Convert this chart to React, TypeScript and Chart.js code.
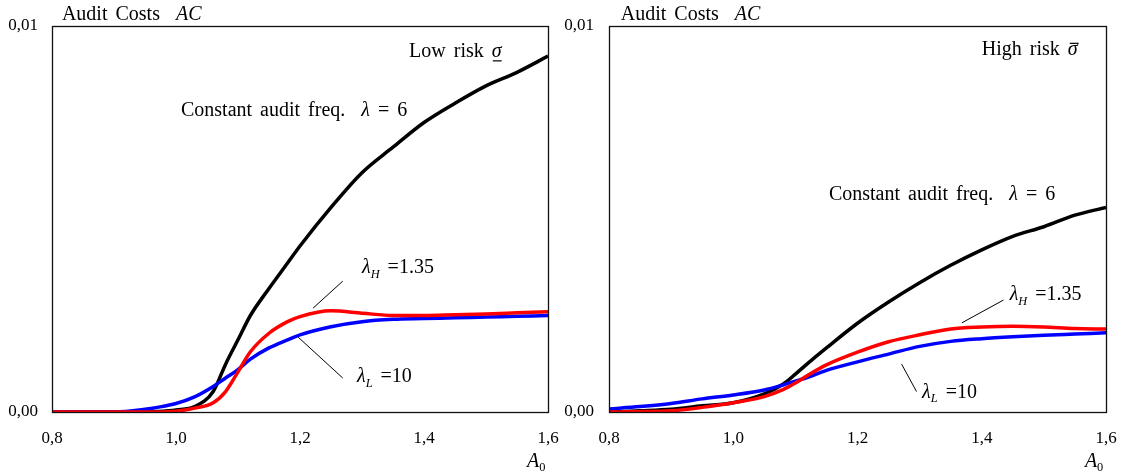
import React, { useEffect, useRef } from 'react';
import { Chart, registerables } from 'chart.js';

Chart.register(...registerables);

// ---------- data ----------
const leftA = [0.8, 0.85, 0.9, 0.95, 0.97, 1.0, 1.03, 1.06, 1.08, 1.1, 1.12, 1.15, 1.18, 1.2, 1.25, 1.3, 1.35, 1.4, 1.45, 1.5, 1.55, 1.6];
const leftConst = [0, 0, 0, 0, 0.00001, 0.00005, 0.00014, 0.00053, 0.00124, 0.00187, 0.0025, 0.0032, 0.00386, 0.0043, 0.0053, 0.0062, 0.00686, 0.0075, 0.008, 0.00845, 0.0088, 0.00922];
const leftLow = [0, 0, 0, 0.00007, 0.00012, 0.00022, 0.00039, 0.00066, 0.00088, 0.0011, 0.00137, 0.00166, 0.00187, 0.002, 0.00221, 0.00234, 0.0024, 0.00242, 0.00244, 0.00246, 0.00248, 0.0025];
const leftHigh = [0, 0, 0, 0, 0, 0.00002, 0.0001, 0.00024, 0.00053, 0.00104, 0.00156, 0.00204, 0.00234, 0.00247, 0.00262, 0.00256, 0.0025, 0.0025, 0.00252, 0.00254, 0.00257, 0.0026];

const rightA = [0.8, 0.85, 0.9, 0.95, 1.0, 1.05, 1.08, 1.1, 1.12, 1.15, 1.2, 1.25, 1.3, 1.35, 1.4, 1.45, 1.5, 1.55, 1.6];
const rightConst = [0, 0.00003, 0.00007, 0.00016, 0.00024, 0.00047, 0.00072, 0.00098, 0.00126, 0.00166, 0.0023, 0.00285, 0.00335, 0.0038, 0.0042, 0.00455, 0.0048, 0.0051, 0.0053];
const rightLow = [0.00008, 0.00014, 0.00022, 0.00034, 0.00044, 0.00057, 0.0007, 0.0008, 0.0009, 0.00108, 0.0013, 0.0015, 0.0017, 0.00183, 0.0019, 0.00195, 0.00199, 0.00202, 0.00205];
const rightHigh = [0, 0.00001, 0.00003, 0.00012, 0.00024, 0.0004, 0.00058, 0.00075, 0.00095, 0.00122, 0.00155, 0.00182, 0.002, 0.00215, 0.0022, 0.00222, 0.0022, 0.00216, 0.00215];

const xTicks = [0.8, 1.0, 1.2, 1.4, 1.6];
const yTicks = [0, 0.01];

// ---------- text / annotations ----------
type Seg = { t: string; i?: boolean; sub?: boolean; under?: boolean; over?: boolean };
type Note = { x: number; y: number; segs: Seg[] };
type Leader = { x1: number; y1: number; x2: number; y2: number };

const titleSegs: Seg[] = [{ t: 'Audit Costs  ' }, { t: 'AC', i: true }];
const constSegs: Seg[] = [{ t: 'Constant audit freq.  ' }, { t: 'λ', i: true }, { t: ' = 6' }];
const highSegs: Seg[] = [{ t: 'λ', i: true }, { t: 'H', i: true, sub: true }, { t: ' =1.35' }];
const lowSegs: Seg[] = [{ t: 'λ', i: true }, { t: 'L', i: true, sub: true }, { t: ' =10' }];
const axisSegs: Seg[] = [{ t: 'A', i: true }, { t: '0', sub: true }];

const leftNotes: Note[] = [
  { x: 0.816, y: 0.0103, segs: titleSegs },
  { x: 1.376, y: 0.00933, segs: [{ t: 'Low risk ' }, { t: 'σ', i: true, under: true }] },
  { x: 1.008, y: 0.0078, segs: constSegs },
  { x: 1.3, y: 0.00373, segs: highSegs },
  { x: 1.292, y: 0.00091, segs: lowSegs },
  { x: 1.566, y: -0.00128, segs: axisSegs },
];
const leftLeaders: Leader[] = [
  { x1: 1.269, y1: 0.00339, x2: 1.221, y2: 0.00269 },
  { x1: 1.197, y1: 0.00194, x2: 1.269, y2: 0.00088 },
];

const rightNotes: Note[] = [
  { x: 0.819, y: 0.0103, segs: titleSegs },
  { x: 1.4, y: 0.00938, segs: [{ t: 'High risk ' }, { t: 'σ', i: true, over: true }] },
  { x: 1.154, y: 0.00562, segs: constSegs },
  { x: 1.445, y: 0.00303, segs: highSegs },
  { x: 1.304, y: 0.0005, segs: lowSegs },
  { x: 1.566, y: -0.00128, segs: axisSegs },
];
const rightLeaders: Leader[] = [
  { x1: 1.435, y1: 0.0029, x2: 1.368, y2: 0.00231 },
  { x1: 1.271, y1: 0.00124, x2: 1.295, y2: 0.00053 },
];

const FONT = '"Liberation Serif", "Times New Roman", serif';
const NOTE_SIZE = 20;
const TICK_SIZE = 17;
const WORD_GAP = 3;

function drawRich(ctx: CanvasRenderingContext2D, segs: Seg[], x: number, y: number, size: number) {
  let cx = x;
  ctx.textBaseline = 'middle';
  ctx.textAlign = 'left';
  for (const s of segs) {
    const fs = s.sub ? size * 0.62 : size;
    ctx.font = `${s.i ? 'italic ' : ''}${fs}px ${FONT}`;
    const dy = s.sub ? size * 0.32 : 0;
    const parts = s.t.split(' ');
    const spaceW = ctx.measureText(' ').width + WORD_GAP;
    parts.forEach((p, k) => {
      if (k > 0) cx += spaceW;
      if (!p) return;
      ctx.fillText(p, cx, y + dy);
      const w = ctx.measureText(p).width;
      if (s.under) ctx.fillRect(cx + 1, y + size * 0.42, w - 1, 1.2);
      if (s.over) ctx.fillRect(cx + 2, y - size * 0.36, w - 1, 1.2);
      cx += w;
    });
  }
}

function makePlugin(notes: Note[], leaders: Leader[]) {
  return {
    id: 'notes',
    afterDraw(chart: any) {
      const { ctx, chartArea: a, scales } = chart;
      const xs = scales.x;
      const ys = scales.y;
      ctx.save();
      ctx.strokeStyle = '#111';
      ctx.lineWidth = 1.3;
      ctx.strokeRect(a.left + 0.5, a.top + 0.5, a.right - a.left, a.bottom - a.top);
      ctx.lineWidth = 1;
      ctx.strokeStyle = '#000';
      for (const l of leaders) {
        ctx.beginPath();
        ctx.moveTo(xs.getPixelForValue(l.x1), ys.getPixelForValue(l.y1));
        ctx.lineTo(xs.getPixelForValue(l.x2), ys.getPixelForValue(l.y2));
        ctx.stroke();
      }
      ctx.fillStyle = '#000';
      for (const n of notes) {
        drawRich(ctx, n.segs, xs.getPixelForValue(n.x), ys.getPixelForValue(n.y), NOTE_SIZE);
      }
      ctx.restore();
    },
  };
}

function buildConfig(
  xs: number[],
  series: { vals: number[]; color: string }[],
  yWidth: number,
  yPad: number,
  rightPad: number,
  notes: Note[],
  leaders: Leader[],
): any {
  return {
    type: 'line',
    data: {
      datasets: series.map((s) => ({
        data: xs.map((x, i) => ({ x, y: s.vals[i] })),
        borderColor: s.color,
        borderWidth: 3.5,
        pointRadius: 0,
        cubicInterpolationMode: 'monotone',
        fill: false,
      })),
    },
    options: {
      animation: false,
      responsive: false,
      devicePixelRatio: 1,
      layout: { padding: { top: 26, right: rightPad, left: 0, bottom: 0 } },
      plugins: { legend: { display: false }, tooltip: { enabled: false }, title: { display: false } },
      scales: {
        x: {
          type: 'linear',
          min: 0.8,
          max: 1.6,
          grid: { display: false, drawTicks: false },
          border: { display: false },
          afterBuildTicks: (s: any) => {
            s.ticks = xTicks.map((v) => ({ value: v }));
          },
          afterFit: (s: any) => {
            s.height = 61;
            s.paddingLeft = 0;
            s.paddingRight = 0;
          },
          ticks: {
            autoSkip: false,
            maxRotation: 0,
            padding: 16,
            color: '#000',
            font: { family: FONT, size: TICK_SIZE },
            callback: (v: any) => Number(v).toFixed(1).replace('.', ','),
          },
        },
        y: {
          type: 'linear',
          min: 0,
          max: 0.01,
          grid: { display: false, drawTicks: false },
          border: { display: false },
          afterBuildTicks: (s: any) => {
            s.ticks = yTicks.map((v) => ({ value: v }));
          },
          afterFit: (s: any) => {
            s.width = yWidth;
            s.paddingTop = 0;
            s.paddingBottom = 0;
          },
          ticks: {
            autoSkip: false,
            padding: yPad,
            color: '#000',
            font: { family: FONT, size: TICK_SIZE },
            callback: (v: any) => Number(v).toFixed(2).replace('.', ','),
          },
        },
      },
    },
    plugins: [makePlugin(notes, leaders)],
  };
}

const W = 561;
const H = 473;

export default function App() {
  const leftRef = useRef<HTMLCanvasElement>(null);
  const rightRef = useRef<HTMLCanvasElement>(null);

  useEffect(() => {
    const c1 = new Chart(
      leftRef.current!,
      buildConfig(
        leftA,
        [
          { vals: leftHigh, color: '#ff0000' },
          { vals: leftLow, color: '#0000ff' },
          { vals: leftConst, color: '#000000' },
        ],
        52,
        14,
        13,
        leftNotes,
        leftLeaders,
      ),
    );
    const c2 = new Chart(
      rightRef.current!,
      buildConfig(
        rightA,
        [
          { vals: rightHigh, color: '#ff0000' },
          { vals: rightLow, color: '#0000ff' },
          { vals: rightConst, color: '#000000' },
        ],
        48,
        15,
        16,
        rightNotes,
        rightLeaders,
      ),
    );
    return () => {
      c1.destroy();
      c2.destroy();
    };
  }, []);

  return (
    <div style={{ position: 'fixed', left: 0, top: 0, width: 1122, height: 473, background: '#fff' }}>
      <canvas ref={leftRef} width={W} height={H} style={{ position: 'absolute', left: 0, top: 0, width: W, height: H }} />
      <canvas ref={rightRef} width={W} height={H} style={{ position: 'absolute', left: W, top: 0, width: W, height: H }} />
    </div>
  );
}
